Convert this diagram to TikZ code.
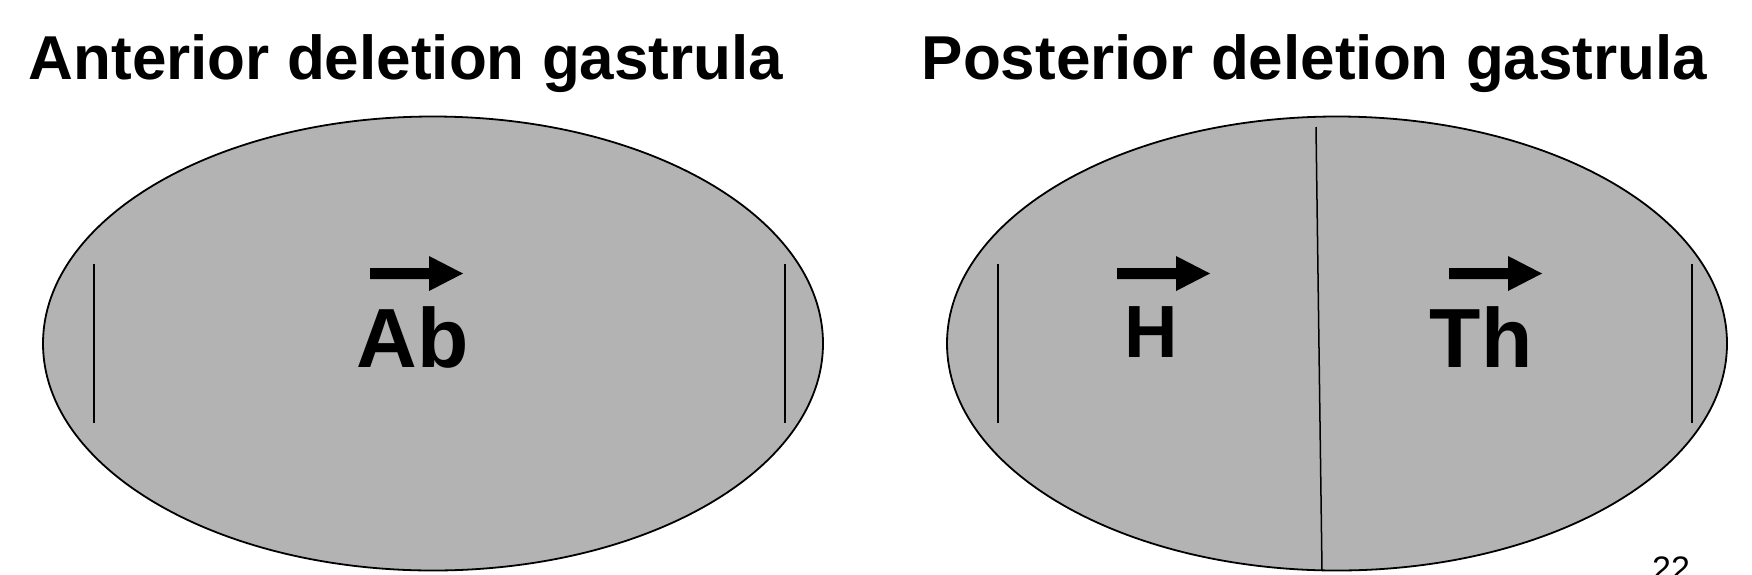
\documentclass[tikz,border=0pt]{standalone}
\usepackage{fontspec}
\setmainfont{Liberation Sans}
\usetikzlibrary{shapes.geometric}
\definecolor{embryo}{RGB}{179,179,179}
\tikzset{
  gastrula/.style={ellipse, draw=black, fill=embryo, line width=1.8pt,
    minimum width=780pt, minimum height=454pt, inner sep=0pt},
  titletext/.style={anchor=base, inner sep=0pt, font=\fontsize{62}{70}\selectfont\bfseries},
  genetext/.style={anchor=base, inner sep=0pt, font=\fontsize{84}{90}\selectfont\bfseries},
  smallgene/.style={anchor=base, inner sep=0pt, font=\fontsize{74}{80}\selectfont\bfseries},
  pagenum/.style={anchor=base west, inner sep=0pt, font=\fontsize{34}{40}\selectfont},
  border/.style={line width=1.5pt, draw=black},
  genearrow/.pic={\fill[black] (0,-5.5) -- (59,-5.5) -- (59,-17.5) -- (93,0) -- (59,17.5) -- (59,5.5) -- (0,5.5) -- cycle;}
}
\begin{document}
\begin{tikzpicture}[x=1pt, y=-1pt]
\useasboundingbox (0,0) rectangle (1752,574);
% titles
\node[titletext] (t1) at (406,79) {Anterior deletion gastrula};
\node[titletext] (t2) at (1314.5,79) {Posterior deletion gastrula};
% embryos
\node[gastrula] (e1) at (433,343.5) {};
\node[gastrula] (e2) at (1337,343.5) {};
% boundary lines
\coordinate (a1) at (94,264); \coordinate (a2) at (94,423);
\coordinate (b1) at (785,264); \coordinate (b2) at (785,423);
\coordinate (c1) at (998,264); \coordinate (c2) at (998,423);
\coordinate (d1) at (1692,264); \coordinate (d2) at (1692,423);
\coordinate (m1) at (1316,127); \coordinate (m2) at (1322,571);
\draw[border] (a1) -- (a2);
\draw[border] (b1) -- (b2);
\draw[border] (c1) -- (c2);
\draw[border] (d1) -- (d2);
\draw[border] (m1) -- (m2);
% gene labels
\pic at (370,273.5) {genearrow};
\node[genetext] (ab) at (412.5,367) {Ab};
\pic at (1117,273.5) {genearrow};
\node[smallgene] (h) at (1151,357) {H};
\pic at (1449,273.5) {genearrow};
\node[genetext] (th) at (1481,367) {Th};
% page number
\node[pagenum] (pn) at (1652,580) {22};
\end{tikzpicture}
\end{document}
